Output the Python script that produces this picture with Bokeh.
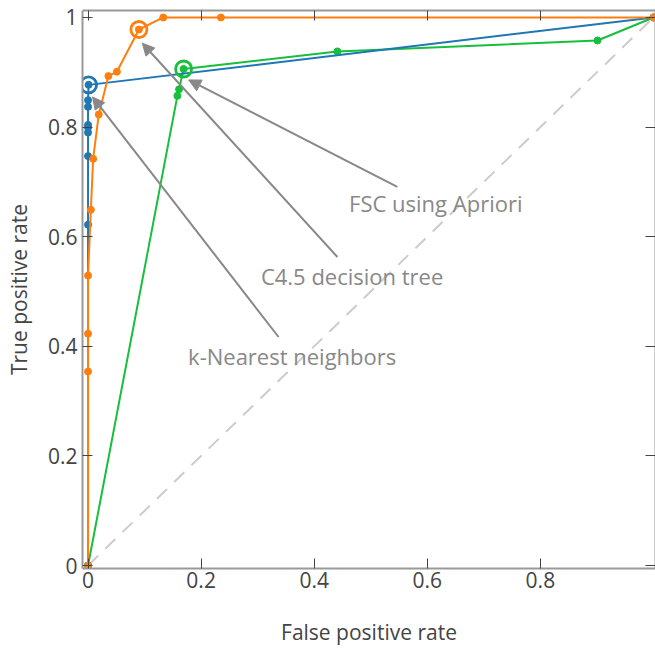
from bokeh.plotting import figure
from bokeh.models import Range1d, LinearAxis, FixedTicker, Arrow, NormalHead, Label
from bokeh.embed import file_html
from bokeh.resources import INLINE

# ---- data ----
knn_fpr = [0.0, 0.0, 0.0, 0.0, 0.0, 0.0, 0.0, 0.0, 0.001, 1.0]
knn_tpr = [0.0, 0.622, 0.747, 0.790, 0.799, 0.804, 0.837, 0.849, 0.877, 1.0]

c45_fpr = [0.0, 0.0, 0.0, 0.0, 0.005, 0.009, 0.019, 0.036, 0.051, 0.090, 0.133, 0.235, 1.0]
c45_tpr = [0.0, 0.354, 0.423, 0.529, 0.649, 0.742, 0.823, 0.893, 0.901, 0.978, 1.0, 1.0, 1.0]

fsc_fpr = [0.0, 0.158, 0.161, 0.169, 0.441, 0.901, 1.0]
fsc_tpr = [0.0, 0.857, 0.869, 0.906, 0.938, 0.958, 1.0]

chance = [0.0, 1.0]

# selected operating points (circled)
sel_knn = (0.001, 0.877)
sel_c45 = (0.090, 0.978)
sel_fsc = (0.169, 0.906)

x_ticks = [0, 0.2, 0.4, 0.6, 0.8]
y_ticks = [0, 0.2, 0.4, 0.6, 0.8, 1]

BLUE = "#1f77b4"
ORANGE = "#ff7f0e"
GREEN = "#17bf3c"
AXIS = "#999999"
TEXT = "#444444"
ANN = "#888888"
FONT = "Open Sans"

p = figure(width=655, height=648, output_backend="svg", toolbar_location=None,
           x_range=Range1d(-0.0098, 1.0036), y_range=Range1d(-0.0054, 1.0127),
           x_axis_label="False positive rate", y_axis_label="True positive rate",
           min_border_left=82, min_border_right=0, min_border_top=10, min_border_bottom=77)
p.outline_line_color = None
p.xgrid.visible = False
p.ygrid.visible = False
p.background_fill_color = "white"
p.border_fill_color = "white"

for ax, ticks in ((p.xaxis[0], x_ticks), (p.yaxis[0], y_ticks)):
    ax.ticker = FixedTicker(ticks=ticks)
    ax.axis_line_color = AXIS
    ax.axis_line_width = 2
    ax.major_tick_line_color = TEXT
    ax.major_tick_in = 10
    ax.major_tick_out = 0
    ax.minor_tick_line_color = None
    ax.major_label_text_font = FONT
    ax.major_label_text_font_size = "21px"
    ax.major_label_text_color = TEXT
    ax.axis_label_text_font = FONT
    ax.axis_label_text_font_size = "21px"
    ax.axis_label_text_font_style = "normal"
    ax.axis_label_text_color = TEXT
p.xaxis[0].major_label_standoff = 3
p.xaxis[0].axis_label_standoff = 27
p.yaxis[0].major_label_standoff = 5
p.yaxis[0].axis_label_standoff = 12

# mirrored tick axes (no labels)
top = LinearAxis(ticker=FixedTicker(ticks=x_ticks), axis_line_color=AXIS, axis_line_width=2,
                 major_tick_in=10, major_tick_out=0, minor_tick_line_color=None,
                 major_tick_line_color=TEXT, major_label_standoff=0,
                 major_label_overrides={t: "" for t in x_ticks})
right = LinearAxis(ticker=FixedTicker(ticks=y_ticks), axis_line_color=AXIS, axis_line_width=2,
                   major_tick_in=10, major_tick_out=0, minor_tick_line_color=None,
                   major_tick_line_color=TEXT, major_label_standoff=0,
                   major_label_overrides={t: "" for t in y_ticks})
p.add_layout(top, "above")
p.add_layout(right, "right")

# chance diagonal
p.line(chance, chance, line_color="#cccccc", line_width=2, line_dash="14 10")

# curves
for fx, fy, col in ((fsc_fpr, fsc_tpr, GREEN), (knn_fpr, knn_tpr, BLUE), (c45_fpr, c45_tpr, ORANGE)):
    p.line(fx, fy, line_color=col, line_width=2)
    p.scatter(fx, fy, size=7, fill_color=col, line_color=col)

for (sx, sy), col in ((sel_knn, BLUE), (sel_c45, ORANGE), (sel_fsc, GREEN)):
    p.scatter([sx], [sy], size=16, fill_color=None, line_color=col, line_width=2.8)

# annotations: (text, text x/y, arrow tail x/y, arrow tip x/y)
annotations = [
    ("FSC using Apriori", 0.615, 0.662, 0.547, 0.691, 0.178, 0.886),
    ("C4.5 decision tree", 0.467, 0.528, 0.441, 0.563, 0.096, 0.953),
    ("k-Nearest neighbors", 0.361, 0.383, 0.337, 0.417, 0.008, 0.855),
]
for txt, tx, ty, ax0, ay0, ax1, ay1 in annotations:
    p.add_layout(Arrow(end=NormalHead(size=12, fill_color=ANN, line_color=ANN),
                       x_start=ax0, y_start=ay0, x_end=ax1, y_end=ay1,
                       line_color=ANN, line_width=2))
    p.add_layout(Label(x=tx, y=ty, text=txt, text_align="center", text_baseline="middle",
                       text_font=FONT, text_font_size="22px", text_color=ANN))

open("out.html", "w").write(file_html(p, INLINE))
